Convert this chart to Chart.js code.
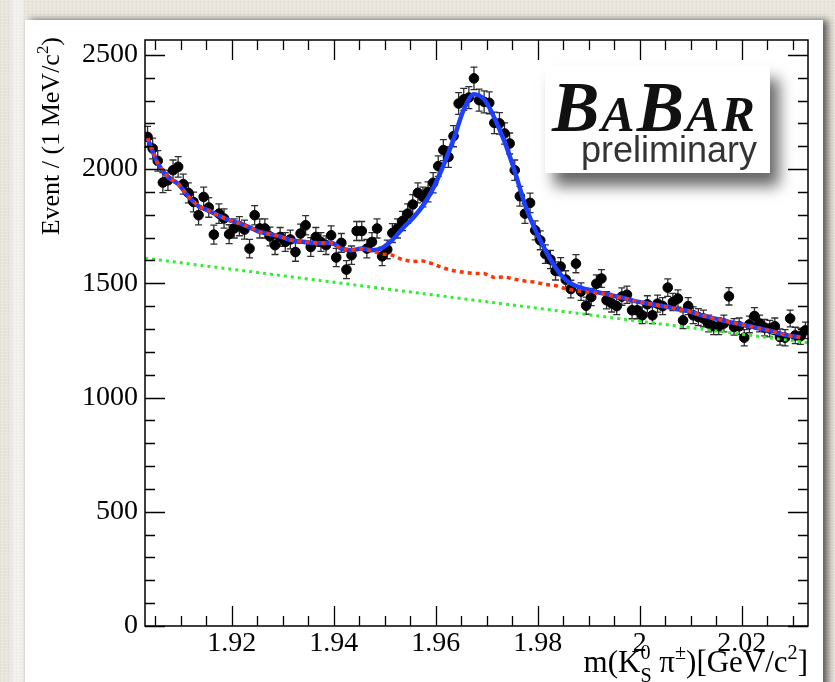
<!DOCTYPE html>
<html>
<head>
<meta charset="utf-8">
<script src="https://cdn.jsdelivr.net/npm/chart.js@4.4.1/dist/chart.umd.min.js"></script>
<style>
  html, body { margin: 0; padding: 0; }
  body {
    width: 835px; height: 682px; overflow: hidden; position: relative;
    background-color: #e8e4dc;
    background-image:
      linear-gradient(90deg, transparent 0 10px, rgba(255,255,255,0.45) 14px 22px, transparent 25px),
      repeating-linear-gradient(0deg, rgba(255,255,255,0.18) 0 1px, transparent 1px 3px),
      repeating-linear-gradient(90deg, rgba(0,0,0,0.025) 0 1px, transparent 1px 4px);
  }
  #panel {
    position: absolute; left: 25px; top: 20px; width: 798px; height: 720px;
    background: #fff; box-shadow: 5px 0 7px rgba(0,0,0,0.6);
  }
  #chart { position: absolute; left: 0; top: 0; }
  #logo {
    position: absolute; left: 545px; top: 66px; width: 225px; height: 107px;
    background: #fff; box-shadow: 9px 13px 14px rgba(0,0,0,0.6); z-index: 2;
  }
  #babar {
    position: absolute; left: 7px; top: 6px; white-space: nowrap; line-height: 1;
    font-family: 'Liberation Serif', serif; font-style: italic; font-weight: bold;
    color: #111; letter-spacing: 2px;
  }
  #babar .big { font-size: 71px; }
  #babar .sm { font-size: 50px; }
  #prelim {
    position: absolute; right: 13px; top: 66px; line-height: 1;
    font-family: 'Liberation Sans', sans-serif; font-size: 36px; color: #333;
  }
</style>
</head>
<body>
<div id="panel"></div>
<canvas id="chart" width="835" height="682"></canvas>
<div id="logo">
  <div id="babar"><span class="big">B</span><span class="sm">A</span><span class="big">B</span><span class="sm">AR</span></div>
  <div id="prelim">preliminary</div>
</div>
<script>
// binning: 1 MeV bins starting at 1.903 GeV/c^2
const binLow = 1.903;
const binWidth = 0.001;

// events per bin
const counts = [
  2141, 2090, 2036, 1941, 1951, 1995, 2010, 1934, 1896, 1856,
  1798, 1878, 1832, 1713, 1805, 1784, 1715, 1740, 1750, 1735,
  1652, 1798, 1740, 1740, 1705, 1667, 1703, 1681, 1692, 1637,
  1718, 1754, 1659, 1703, 1681, 1667, 1710, 1613, 1677, 1560,
  1623, 1729, 1729, 1652, 1681, 1740, 1618, 1648, 1720, 1740,
  1773, 1805, 1845, 1896, 1878, 1900, 1940, 2013, 2083, 2053,
  2144, 2287, 2305, 2313, 2397, 2302, 2294, 2290, 2202, 2200,
  2156, 2112, 1995, 1881, 1805, 1852, 1732, 1688, 1628, 1604,
  1554, 1573, 1516, 1475, 1586, 1464, 1402, 1440, 1498, 1521,
  1426, 1412, 1400, 1442, 1450, 1382, 1382, 1360, 1408, 1360,
  1411, 1400, 1481, 1418, 1433, 1338, 1400, 1360, 1352, 1346,
  1324, 1312, 1312, 1324, 1443, 1309, 1312, 1262, 1320, 1357,
  1324, 1306, 1302, 1312, 1265, 1262, 1346, 1272, 1268, 1294
];

// fit curves, sampled every second bin
const fitTotal = [
  2135, 2025, 1965, 1935, 1880, 1838, 1818, 1796, 1776, 1763,
  1745, 1725, 1715, 1705, 1690, 1683, 1678, 1675, 1678, 1652,
  1645, 1652, 1645, 1655, 1690, 1740, 1785, 1840, 1915, 2015,
  2130, 2260, 2328, 2305, 2225, 2120, 1990, 1845, 1735, 1645,
  1568, 1515, 1488, 1474, 1462, 1453, 1442, 1432, 1420, 1412,
  1404, 1396, 1386, 1379, 1364, 1352, 1342, 1331, 1322, 1312,
  1302, 1293, 1280, 1270, 1264
];
const fitBackground = [
  2135, 2025, 1965, 1935, 1880, 1838, 1818, 1796, 1776, 1763,
  1745, 1725, 1715, 1705, 1690, 1683, 1678, 1675, 1678, 1652,
  1645, 1652, 1642, 1628, 1623, 1603, 1595, 1598, 1585, 1567,
  1555, 1548, 1543, 1543, 1525, 1528, 1518, 1510, 1505, 1495,
  1490, 1476, 1468, 1462, 1458, 1452, 1440, 1432, 1420, 1412,
  1404, 1396, 1386, 1379, 1364, 1352, 1342, 1331, 1322, 1312,
  1302, 1293, 1280, 1270, 1264
];

// combinatorial component (straight line)
const combMass = [1.903, 2.033];
const combEvents = [1610, 1240];

const xTicks = [1.92, 1.94, 1.96, 1.98, 2.00, 2.02];
const xTickLabels = ['1.92', '1.94', '1.96', '1.98', '2', '2.02'];
const yTicks = [0, 500, 1000, 1500, 2000, 2500];

const binCentres = counts.map((_, i) => binLow + (i + 0.5) * binWidth);
const fitMass = binCentres.filter((_, i) => i % 2 === 0);

const serif = "'Liberation Serif', 'Times New Roman', serif";

function drawRich(ctx, parts, size) {
  let x = 0;
  parts.forEach(p => {
    if (p.sup) {
      ctx.font = (size * 0.65) + 'px ' + serif;
      ctx.fillText(p.t, x, -size * 0.42);
      let w = ctx.measureText(p.t).width;
      if (p.sub) {
        ctx.fillText(p.sub, x, size * 0.32);
        w = Math.max(w, ctx.measureText(p.sub).width);
      }
      x += w;
    } else {
      ctx.font = size + 'px ' + serif;
      ctx.fillText(p.t, x, 0);
      x += ctx.measureText(p.t).width;
    }
  });
}
function richWidth(ctx, parts, size) {
  let w = 0;
  parts.forEach(p => {
    if (p.sup) {
      ctx.font = (size * 0.65) + 'px ' + serif;
      w += Math.max(ctx.measureText(p.t).width, p.sub ? ctx.measureText(p.sub).width : 0);
    } else {
      ctx.font = size + 'px ' + serif;
      w += ctx.measureText(p.t).width;
    }
  });
  return w;
}

const rootFrame = {
  id: 'rootFrame',
  beforeDatasetsDraw(chart) {
    const { ctx, scales: { x, y } } = chart;
    ctx.save();
    ctx.strokeStyle = '#2e2e2e';
    ctx.lineWidth = 1.3;
    counts.forEach((n, i) => {
      const px = x.getPixelForValue(binCentres[i]);
      const err = Math.sqrt(n);
      const top = y.getPixelForValue(n + err);
      const bot = y.getPixelForValue(n - err);
      ctx.beginPath();
      ctx.moveTo(px, top); ctx.lineTo(px, bot);
      ctx.moveTo(px - 3.5, top); ctx.lineTo(px + 3.5, top);
      ctx.moveTo(px - 3.5, bot); ctx.lineTo(px + 3.5, bot);
      ctx.stroke();
    });
    ctx.restore();
  },
  afterDraw(chart) {
    const { ctx, chartArea: a, scales: { x, y } } = chart;
    ctx.save();
    ctx.strokeStyle = '#000';
    ctx.lineWidth = 1.5;
    ctx.strokeRect(a.left, a.top, a.right - a.left, a.bottom - a.top);

    ctx.lineWidth = 1.3;
    ctx.beginPath();
    // x ticks every 5 MeV, inward on bottom and top
    for (let k = Math.ceil(x.min / 0.005 - 1e-6); k * 0.005 <= x.max + 1e-9; k++) {
      const v = k * 0.005;
      const px = Math.round(x.getPixelForValue(v)) + 0.5;
      const major = xTicks.some(t => Math.abs(t - v) < 1e-6);
      const len = major ? 20 : 10;
      ctx.moveTo(px, a.bottom); ctx.lineTo(px, a.bottom - len);
      ctx.moveTo(px, a.top); ctx.lineTo(px, a.top + len);
    }
    // y ticks every 100, inward on left and right
    for (let v = 0; v <= y.max; v += 100) {
      const py = Math.round(y.getPixelForValue(v)) + 0.5;
      const len = v % 500 === 0 ? 20 : 10;
      ctx.moveTo(a.left, py); ctx.lineTo(a.left + len, py);
      ctx.moveTo(a.right, py); ctx.lineTo(a.right - len, py);
    }
    ctx.stroke();

    // axis titles
    ctx.fillStyle = '#000';
    ctx.textBaseline = 'alphabetic';
    ctx.textAlign = 'left';
    const xTitle = [{ t: 'm(K' }, { t: '0', sup: true, sub: 'S' }, { t: ' π' },
      { t: '±', sup: true }, { t: ')[GeV/c' }, { t: '2', sup: true }, { t: ']' }];
    const xw = richWidth(ctx, xTitle, 31);
    ctx.save();
    ctx.translate(a.right - xw, 672);
    drawRich(ctx, xTitle, 31);
    ctx.restore();

    const yTitle = [{ t: 'Event / (1 MeV/c' }, { t: '2', sup: true }, { t: ')' }];
    const yw = richWidth(ctx, yTitle, 26);
    ctx.save();
    ctx.translate(59, 37 + yw);
    ctx.rotate(-Math.PI / 2);
    drawRich(ctx, yTitle, 26);
    ctx.restore();
    ctx.restore();
  }
};

Chart.defaults.font.family = serif;
Chart.defaults.color = '#000';

new Chart(document.getElementById('chart'), {
  type: 'scatter',
  data: {
    datasets: [
      {
        label: 'Data',
        data: counts.map((n, i) => ({ x: binCentres[i], y: n })),
        backgroundColor: '#000',
        borderColor: '#000',
        pointRadius: 4.8,
        order: 3
      },
      {
        type: 'line',
        label: 'Combinatorial',
        data: combMass.map((m, i) => ({ x: m, y: combEvents[i] })),
        borderColor: '#2ef02e',
        borderWidth: 3,
        borderDash: [3, 4],
        pointRadius: 0,
        order: 2
      },
      {
        type: 'line',
        label: 'Total fit',
        data: fitMass.map((m, i) => ({ x: m, y: fitTotal[i] })),
        borderColor: '#1d3fff',
        borderWidth: 4.5,
        pointRadius: 0,
        cubicInterpolationMode: 'monotone',
        order: 1
      },
      {
        type: 'line',
        label: 'Background',
        data: fitMass.map((m, i) => ({ x: m, y: fitBackground[i] })),
        borderColor: '#ff3300',
        borderWidth: 3.5,
        borderDash: [4, 4],
        pointRadius: 0,
        order: 0
      }
    ]
  },
  options: {
    responsive: false,
    animation: false,
    devicePixelRatio: 1,
    layout: { padding: { left: 45, right: 27, top: 40, bottom: 0 } },
    plugins: { legend: { display: false }, tooltip: { enabled: false } },
    scales: {
      x: {
        type: 'linear',
        min: 1.903,
        max: 2.033,
        afterBuildTicks: s => { s.ticks = xTicks.map(v => ({ value: v })); },
        afterFit: s => { s.height = 56; },
        ticks: {
          autoSkip: false,
          maxRotation: 0,
          padding: 1,
          font: { size: 28 },
          callback: (v) => xTickLabels[xTicks.findIndex(t => Math.abs(t - v) < 1e-6)]
        },
        grid: { display: false, drawTicks: false },
        border: { display: false }
      },
      y: {
        min: 0,
        max: 2565,
        afterBuildTicks: s => { s.ticks = yTicks.map(v => ({ value: v })); },
        afterFit: s => { s.width = 100; },
        ticks: { padding: 7, font: { size: 28 }, callback: v => String(v) },
        grid: { display: false, drawTicks: false },
        border: { display: false }
      }
    }
  },
  plugins: [rootFrame]
});
</script>
</body>
</html>
